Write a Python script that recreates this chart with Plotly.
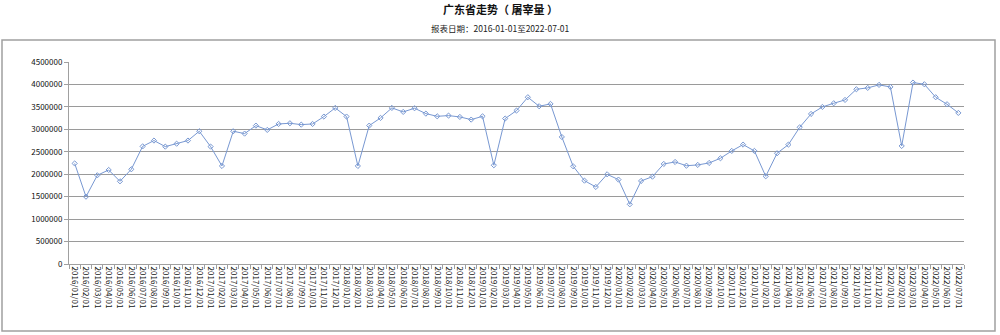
import plotly.graph_objects as go

# Monthly slaughter volume, Guangdong province
months = [f"{y}/{m:02d}/01" for y in range(2016, 2023) for m in range(1, 13)][:79]

slaughter = [
    2240000, 1500000, 1976000, 2095000, 1842000, 2110000, 2620000, 2750000, 2615000, 2680000, 2750000, 2957000,
    2615000, 2184000, 2957000, 2905000, 3083000, 2987000, 3120000, 3135000, 3105000, 3120000, 3284000, 3477000,
    3284000, 2184000, 3083000, 3254000, 3477000, 3388000, 3470000, 3350000, 3290000, 3306000, 3276000, 3217000,
    3290000, 2200000, 3240000, 3418000, 3715000, 3514000, 3566000, 2830000, 2177000, 1857000, 1716000, 1998000,
    1880000, 1330000, 1850000, 1946000, 2229000, 2273000, 2190000, 2207000, 2251000, 2355000, 2519000, 2660000,
    2519000, 1954000, 2467000, 2660000, 3046000, 3343000, 3499000, 3581000, 3655000, 3893000, 3923000, 3990000,
    3945000, 2630000, 4042000, 4004000, 3715000, 3559000, 3366000,
]

title_text = "广东省走势（ 屠宰量 ）"
subtitle_text = "报表日期：2016-01-01至2022-07-01"

line_color = "#7898d2"
grid_color = "#9a9a9a"
font_family = "Noto Sans CJK SC, Noto Sans, sans-serif"

fig = go.Figure(
    go.Scatter(
        x=months,
        y=slaughter,
        mode="lines+markers",
        line=dict(color=line_color, width=1),
        marker=dict(symbol="diamond-open", size=4, color=line_color, line=dict(width=1, color=line_color)),
        hoverinfo="x+y",
    )
)

L, R, T, B = 69, 36, 62, 71
W, H = 1000, 335
pw, ph = W - L - R, H - T - B

def px_x(px):
    return (px - L) / pw

def px_y(py):
    return (H - B - py) / ph

fig.update_layout(
    width=W,
    height=H,
    margin=dict(l=L, r=R, t=T, b=B),
    paper_bgcolor="white",
    plot_bgcolor="white",
    showlegend=False,
    font=dict(family=font_family, size=8, color="#222"),
    shapes=[
        dict(
            type="rect", xref="paper", yref="paper",
            x0=px_x(2), x1=px_x(995), y0=px_y(331), y1=px_y(40),
            line=dict(color="#a0a0a0", width=1.5), fillcolor="rgba(0,0,0,0)", layer="below",
        )
    ],
    annotations=[
        dict(text=f"<b>{title_text}</b>", xref="paper", yref="paper", x=px_x(500), y=px_y(9),
             xanchor="center", yanchor="middle", showarrow=False,
             font=dict(size=11, color="#111", family=font_family)),
        dict(text=subtitle_text, xref="paper", yref="paper", x=px_x(500), y=px_y(28),
             xanchor="center", yanchor="middle", showarrow=False,
             font=dict(size=8.5, color="#222", family=font_family)),
    ],
)

fig.update_xaxes(
    type="category",
    tickangle=90,
    tickfont=dict(size=8, color="#111"),
    showgrid=False,
    showline=True,
    linecolor="#a0a0a0",
    linewidth=1,
    ticks="outside",
    tickson="boundaries",
    ticklen=4,
    tickcolor="#a0a0a0",
    range=[-0.5, len(months) - 0.5],
    fixedrange=True,
)

fig.update_yaxes(
    range=[0, 4500000],
    dtick=500000,
    tickformat="d",
    tickfont=dict(size=8, color="#111"),
    showgrid=True,
    gridcolor=grid_color,
    gridwidth=1,
    showline=True,
    linecolor="#a0a0a0",
    linewidth=1,
    ticks="outside",
    ticklen=4,
    tickcolor="#a0a0a0",
    zeroline=False,
    fixedrange=True,
)

fig.write_html("out.html")
